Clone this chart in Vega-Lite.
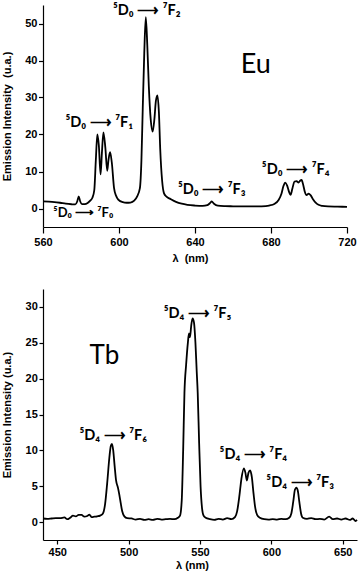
{
  "$schema": "https://vega.github.io/schema/vega-lite/v6.json",
  "background": "white",
  "padding": {"left": 1, "top": 2, "right": 0, "bottom": 10},
  "config": {
    "view": {"stroke": null},
    "axis": {
      "grid": false,
      "domainColor": "black",
      "domainWidth": 1.2,
      "tickColor": "black",
      "tickWidth": 1.2,
      "labelColor": "black",
      "titleColor": "black",
      "labelFont": "Liberation Sans",
      "labelFontWeight": "bold",
      "labelFontSize": 11,
      "titleFont": "Liberation Sans",
      "titleFontWeight": "bold",
      "titleFontSize": 11,
      "labelOverlap": false,
      "labelFlush": false
    }
  },
  "datasets": {
    "eu": [
      {"wl": 560, "i": 1.9}, {"wl": 563, "i": 1.85}, {"wl": 566, "i": 1.75}, {"wl": 569, "i": 1.55},
      {"wl": 572, "i": 1.3}, {"wl": 575, "i": 1.15}, {"wl": 577, "i": 1.1}, {"wl": 578, "i": 1.9},
      {"wl": 578.8, "i": 3.3}, {"wl": 579.6, "i": 1.9}, {"wl": 580.5, "i": 1.2}, {"wl": 582, "i": 1.2},
      {"wl": 583.5, "i": 1.5}, {"wl": 585, "i": 2.2}, {"wl": 586, "i": 2.9}, {"wl": 587, "i": 5},
      {"wl": 587.8, "i": 13}, {"wl": 588.6, "i": 20.0}, {"wl": 589.4, "i": 17}, {"wl": 590.3, "i": 9.2},
      {"wl": 591.0, "i": 15}, {"wl": 591.8, "i": 20.6}, {"wl": 592.8, "i": 16.5}, {"wl": 593.8, "i": 10.2},
      {"wl": 594.5, "i": 13.3}, {"wl": 595.3, "i": 15.2}, {"wl": 596.2, "i": 12.5}, {"wl": 597.4, "i": 5.5},
      {"wl": 598.5, "i": 3.4}, {"wl": 599.6, "i": 2.4}, {"wl": 602, "i": 1.7}, {"wl": 604, "i": 1.55},
      {"wl": 606, "i": 1.6}, {"wl": 608, "i": 2.1}, {"wl": 609.5, "i": 3.2}, {"wl": 611, "i": 5.5},
      {"wl": 611.8, "i": 13}, {"wl": 612.5, "i": 27}, {"wl": 613.3, "i": 42}, {"wl": 614.1, "i": 51.7},
      {"wl": 614.9, "i": 44}, {"wl": 615.7, "i": 33}, {"wl": 616.7, "i": 24}, {"wl": 617.7, "i": 20.8},
      {"wl": 618.6, "i": 24}, {"wl": 619.4, "i": 29}, {"wl": 620.2, "i": 30.6}, {"wl": 621.0, "i": 26},
      {"wl": 621.7, "i": 16}, {"wl": 622.7, "i": 7.5}, {"wl": 623.7, "i": 4.1}, {"wl": 625, "i": 3.2},
      {"wl": 627, "i": 2.6}, {"wl": 630, "i": 1.8}, {"wl": 633, "i": 1.3}, {"wl": 636, "i": 1.0},
      {"wl": 640, "i": 0.8}, {"wl": 644, "i": 0.7}, {"wl": 646.5, "i": 0.9}, {"wl": 648, "i": 1.5},
      {"wl": 648.8, "i": 1.9}, {"wl": 650, "i": 1.3}, {"wl": 652, "i": 0.8}, {"wl": 656, "i": 0.65},
      {"wl": 660, "i": 0.6}, {"wl": 665, "i": 0.55}, {"wl": 670, "i": 0.55}, {"wl": 675, "i": 0.6},
      {"wl": 679, "i": 0.8}, {"wl": 682, "i": 1.3}, {"wl": 684, "i": 2.3}, {"wl": 685.5, "i": 4},
      {"wl": 686.5, "i": 6}, {"wl": 687.5, "i": 7.0}, {"wl": 688.5, "i": 6.2}, {"wl": 689.5, "i": 4.5},
      {"wl": 690.3, "i": 3.7}, {"wl": 691.3, "i": 5.5}, {"wl": 692.4, "i": 7.3}, {"wl": 693.5, "i": 7.4},
      {"wl": 694.5, "i": 7.0}, {"wl": 695.3, "i": 7.5}, {"wl": 696.1, "i": 7.7}, {"wl": 697, "i": 6.3},
      {"wl": 697.8, "i": 4.5}, {"wl": 698.7, "i": 3.6}, {"wl": 699.8, "i": 4.0}, {"wl": 700.8, "i": 3.6},
      {"wl": 702, "i": 2.6}, {"wl": 703.5, "i": 1.6}, {"wl": 705, "i": 1.0}, {"wl": 707, "i": 0.7},
      {"wl": 710, "i": 0.55}, {"wl": 715, "i": 0.5}, {"wl": 720, "i": 0.45}
    ],
    "tb": [
      {"wl": 440, "i": 0.5}, {"wl": 443, "i": 0.45}, {"wl": 446, "i": 0.5}, {"wl": 449, "i": 0.55},
      {"wl": 452, "i": 0.55}, {"wl": 455, "i": 0.65}, {"wl": 457, "i": 0.4}, {"wl": 459, "i": 0.6},
      {"wl": 461, "i": 0.9}, {"wl": 463, "i": 0.8}, {"wl": 465, "i": 1.0}, {"wl": 467, "i": 1.0},
      {"wl": 469, "i": 0.75}, {"wl": 471, "i": 0.85}, {"wl": 472.5, "i": 1.05}, {"wl": 474, "i": 0.7},
      {"wl": 476, "i": 0.75}, {"wl": 478, "i": 0.8}, {"wl": 480, "i": 0.9}, {"wl": 482, "i": 1.2},
      {"wl": 483.5, "i": 2.5}, {"wl": 485, "i": 5.5}, {"wl": 486.5, "i": 9}, {"wl": 487.5, "i": 10.6},
      {"wl": 488.3, "i": 10.9}, {"wl": 489.2, "i": 10}, {"wl": 490.2, "i": 7.8}, {"wl": 491.2, "i": 5.8},
      {"wl": 492.5, "i": 4.8}, {"wl": 493.5, "i": 3.8}, {"wl": 494.5, "i": 2.6}, {"wl": 495.5, "i": 1.5},
      {"wl": 497, "i": 0.8}, {"wl": 499, "i": 0.55}, {"wl": 502, "i": 0.5}, {"wl": 505, "i": 0.35},
      {"wl": 508, "i": 0.45}, {"wl": 511, "i": 0.3}, {"wl": 514, "i": 0.4}, {"wl": 517, "i": 0.3},
      {"wl": 520, "i": 0.45}, {"wl": 523, "i": 0.35}, {"wl": 526, "i": 0.4}, {"wl": 529, "i": 0.45},
      {"wl": 532, "i": 0.4}, {"wl": 534.5, "i": 0.6}, {"wl": 536, "i": 0.9}, {"wl": 537.2, "i": 3},
      {"wl": 538.2, "i": 10}, {"wl": 539.1, "i": 18}, {"wl": 540.3, "i": 22}, {"wl": 541.5, "i": 25},
      {"wl": 542.3, "i": 26.3}, {"wl": 543.0, "i": 25.8}, {"wl": 543.8, "i": 27.3}, {"wl": 544.8, "i": 28.4},
      {"wl": 545.8, "i": 27.8}, {"wl": 546.8, "i": 25}, {"wl": 547.7, "i": 21}, {"wl": 548.4, "i": 18},
      {"wl": 549.4, "i": 11}, {"wl": 550.4, "i": 5}, {"wl": 551.4, "i": 2}, {"wl": 552.5, "i": 0.9},
      {"wl": 554, "i": 0.6}, {"wl": 557, "i": 0.4}, {"wl": 560, "i": 0.3}, {"wl": 563, "i": 0.45},
      {"wl": 566, "i": 0.35}, {"wl": 569, "i": 0.55}, {"wl": 572, "i": 0.4}, {"wl": 574.5, "i": 0.7},
      {"wl": 576, "i": 1.5}, {"wl": 577.5, "i": 3.5}, {"wl": 579, "i": 6}, {"wl": 580.7, "i": 7.5},
      {"wl": 581.8, "i": 6.9}, {"wl": 582.8, "i": 5.8}, {"wl": 584, "i": 6.9}, {"wl": 585.1, "i": 7.2},
      {"wl": 586.3, "i": 6.3}, {"wl": 587.5, "i": 4}, {"wl": 588.7, "i": 2}, {"wl": 590, "i": 1.0},
      {"wl": 592, "i": 0.6}, {"wl": 595, "i": 0.4}, {"wl": 598, "i": 0.35}, {"wl": 601, "i": 0.4},
      {"wl": 604, "i": 0.35}, {"wl": 607, "i": 0.45}, {"wl": 610, "i": 0.4}, {"wl": 612.5, "i": 0.6},
      {"wl": 614, "i": 1.2}, {"wl": 615.3, "i": 2.8}, {"wl": 616.5, "i": 4.5}, {"wl": 617.5, "i": 4.8},
      {"wl": 618.5, "i": 4.4}, {"wl": 619.6, "i": 2.8}, {"wl": 620.8, "i": 1.2}, {"wl": 622, "i": 0.6},
      {"wl": 625, "i": 0.45}, {"wl": 628, "i": 0.55}, {"wl": 631, "i": 0.4}, {"wl": 634, "i": 0.45},
      {"wl": 637, "i": 0.35}, {"wl": 640.5, "i": 0.75}, {"wl": 643, "i": 0.4}, {"wl": 646, "i": 0.5},
      {"wl": 649, "i": 0.35}, {"wl": 652, "i": 0.5}, {"wl": 655, "i": 0.3}, {"wl": 657, "i": 0.5},
      {"wl": 659, "i": 0.15}, {"wl": 660, "i": 0.3}
    ]
  },
  "vconcat": [
    {
      "width": 304,
      "height": 222,
      "layer": [
        {
          "data": {"name": "eu"},
          "mark": {"type": "line", "color": "black", "strokeWidth": 1.8, "interpolate": "monotone"},
          "encoding": {
            "x": {
              "field": "wl", "type": "quantitative",
              "scale": {"domain": [560, 720], "nice": false, "zero": false},
              "axis": {
                "title": "λ\u00a0 (nm)",
                "values": [560, 570, 580, 590, 600, 610, 620, 630, 640, 650, 660, 670, 680, 690, 700, 710, 720],
                "labelExpr": "datum.value % 20 === 0 ? datum.label : ''",
                "tickSize": {"condition": {"test": "datum.value % 20 === 0", "value": 6}, "value": 4},
                "labelPadding": 3,
                "titleX": 147,
                "titleY": 31.5,
                "titleBaseline": "middle"
              }
            },
            "y": {
              "field": "i", "type": "quantitative",
              "scale": {"domain": [-5, 55], "nice": false, "zero": false},
              "axis": {
                "title": "Emission Intensity\u00a0 (u.a.)",
                "values": [0, 5, 10, 15, 20, 25, 30, 35, 40, 45, 50],
                "labelExpr": "datum.value % 10 === 0 ? datum.label : ''",
                "tickSize": {"condition": {"test": "datum.value % 10 === 0", "value": 4.5}, "value": 2.5},
                "labelPadding": 1.5,
                "titlePadding": 12.5
              }
            }
          }
        },
        {
          "data": {"values": [
            {"wl": 614.6, "i": 53.4, "label": "⁵D₀ ⟶ ⁷F₂"},
            {"wl": 589.6, "i": 23.0, "label": "⁵D₀ ⟶ ⁷F₁"},
            {"wl": 648.8, "i": 5.0, "label": "⁵D₀ ⟶ ⁷F₃"},
            {"wl": 693, "i": 10.4, "label": "⁵D₀ ⟶ ⁷F₄"}
          ]},
          "mark": {"type": "text", "font": "Lato", "fontWeight": "bold", "fontSize": 14.5, "color": "black", "align": "center", "baseline": "middle"},
          "encoding": {
            "x": {"field": "wl", "type": "quantitative"},
            "y": {"field": "i", "type": "quantitative"},
            "text": {"field": "label"}
          }
        },
        {
          "data": {"values": [
            {"wl": 581.2, "i": -1.3, "label": "⁵D₀ ⟶ ⁷F₀"}
          ]},
          "mark": {"type": "text", "font": "Lato", "fontWeight": "bold", "fontSize": 13, "color": "black", "align": "center", "baseline": "middle"},
          "encoding": {
            "x": {"field": "wl", "type": "quantitative"},
            "y": {"field": "i", "type": "quantitative"},
            "text": {"field": "label"}
          }
        },
        {
          "data": {"values": [
            {"wl": 672, "i": 38.8, "label": "Eu"}
          ]},
          "mark": {"type": "text", "font": "Lato", "fontSize": 27, "color": "black", "align": "center", "baseline": "middle"},
          "encoding": {
            "x": {"field": "wl", "type": "quantitative"},
            "y": {"field": "i", "type": "quantitative"},
            "text": {"field": "label"}
          }
        }
      ]
    },
    {
      "width": 314,
      "height": 251,
      "layer": [
        {
          "data": {"name": "tb"},
          "mark": {"type": "line", "color": "black", "strokeWidth": 1.8, "interpolate": "monotone"},
          "encoding": {
            "x": {
              "field": "wl", "type": "quantitative",
              "scale": {"domain": [440, 660], "nice": false, "zero": false},
              "axis": {
                "title": "λ (nm)",
                "values": [450, 475, 500, 525, 550, 575, 600, 625, 650],
                "labelExpr": "datum.value % 50 === 0 ? datum.label : ''",
                "tickSize": {"condition": {"test": "datum.value % 50 === 0", "value": 4}, "value": 3},
                "labelPadding": 2,
                "titleX": 149,
                "titleY": 25.6,
                "titleBaseline": "middle"
              }
            },
            "y": {
              "field": "i", "type": "quantitative",
              "scale": {"domain": [-2.5, 32.5], "nice": false, "zero": false},
              "axis": {
                "title": "Emission Intensity (u.a.)",
                "values": [0, 2.5, 5, 7.5, 10, 12.5, 15, 17.5, 20, 22.5, 25, 27.5, 30],
                "labelExpr": "datum.value % 5 === 0 ? datum.label : ''",
                "tickSize": {"condition": {"test": "datum.value % 5 === 0", "value": 4}, "value": 2.5},
                "labelPadding": 1.7,
                "titlePadding": 12.8
              }
            }
          }
        },
        {
          "data": {"values": [
            {"wl": 548.3, "i": 29.0, "label": "⁵D₄ ⟶ ⁷F₅"},
            {"wl": 489.2, "i": 11.95, "label": "⁵D₄ ⟶ ⁷F₆"},
            {"wl": 587.4, "i": 9.4, "label": "⁵D₄ ⟶ ⁷F₄"},
            {"wl": 620.2, "i": 5.44, "label": "⁵D₄ ⟶ ⁷F₃"}
          ]},
          "mark": {"type": "text", "font": "Lato", "fontWeight": "bold", "fontSize": 14.5, "color": "black", "align": "center", "baseline": "middle"},
          "encoding": {
            "x": {"field": "wl", "type": "quantitative"},
            "y": {"field": "i", "type": "quantitative"},
            "text": {"field": "label"}
          }
        },
        {
          "data": {"values": [
            {"wl": 483, "i": 23.1, "label": "Tb"}
          ]},
          "mark": {"type": "text", "font": "Lato", "fontSize": 26, "color": "black", "align": "center", "baseline": "middle"},
          "encoding": {
            "x": {"field": "wl", "type": "quantitative"},
            "y": {"field": "i", "type": "quantitative"},
            "text": {"field": "label"}
          }
        }
      ]
    }
  ],
  "spacing": 25
}
